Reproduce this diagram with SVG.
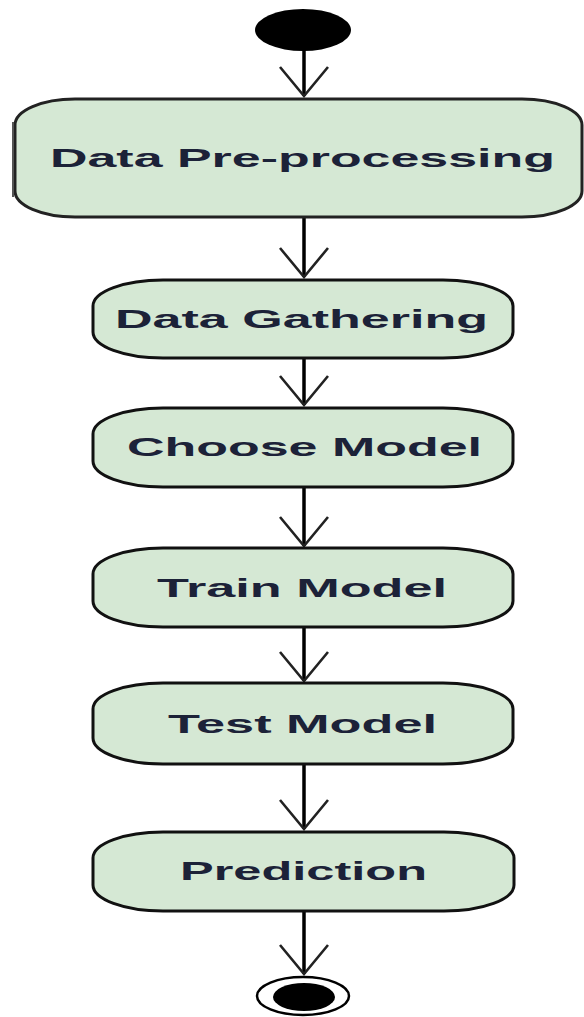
<svg xmlns="http://www.w3.org/2000/svg" width="584" height="1017" viewBox="0 0 584 1017">
<style>
.box{fill:#d5e8d4;stroke:#111;stroke-width:3}
.lbl{font-family:"Liberation Sans",Arial,sans-serif;font-size:26px;font-weight:bold;fill:#1c2238}
.conn{stroke:#000;stroke-width:3.5;fill:none}
</style>
<defs>
<marker id="v" markerUnits="userSpaceOnUse" viewBox="-33 -27 36 54" refX="0" refY="0" markerWidth="36" markerHeight="54" orient="auto">
<path d="M-29,-24 L0,0 L-29,24" fill="none" stroke="#222" stroke-width="2.6"/>
</marker>
</defs>
<g id="connectors">
<line class="conn" x1="304" y1="50" x2="304" y2="96" marker-end="url(#v)"/>
<line class="conn" x1="304" y1="218" x2="304" y2="277" marker-end="url(#v)"/>
<line class="conn" x1="304" y1="358" x2="304" y2="405" marker-end="url(#v)"/>
<line class="conn" x1="304" y1="487" x2="304" y2="546" marker-end="url(#v)"/>
<line class="conn" x1="304" y1="627" x2="304" y2="681" marker-end="url(#v)"/>
<line class="conn" x1="304" y1="764" x2="304" y2="829" marker-end="url(#v)"/>
<line class="conn" x1="304" y1="911" x2="304" y2="974" marker-end="url(#v)"/>
</g>
<g id="start">
<ellipse cx="303" cy="30" rx="48" ry="21" fill="#000"/>
</g>
<g id="n1">
<rect class="box" x="15" y="99" width="567" height="118" rx="60" ry="26" style="stroke:#222"/>
<line x1="13" y1="122" x2="13" y2="197" stroke="#555" stroke-width="2"/>
<text class="lbl" x="50" y="167" textLength="505" lengthAdjust="spacingAndGlyphs">Data Pre-processing</text>
</g>
<g id="n2">
<rect class="box" x="93" y="280" width="420" height="78" rx="70" ry="26"/>
<text class="lbl" x="115" y="328" textLength="373" lengthAdjust="spacingAndGlyphs">Data Gathering</text>
</g>
<g id="n3">
<rect class="box" x="93" y="408" width="420" height="79" rx="70" ry="26"/>
<text class="lbl" x="127" y="456" textLength="355" lengthAdjust="spacingAndGlyphs">Choose Model</text>
</g>
<g id="n4">
<rect class="box" x="93" y="548" width="420" height="79" rx="70" ry="26"/>
<text class="lbl" x="157" y="597" textLength="290" lengthAdjust="spacingAndGlyphs">Train Model</text>
</g>
<g id="n5">
<rect class="box" x="93" y="683" width="420" height="81" rx="70" ry="26"/>
<text class="lbl" x="168" y="733" textLength="269" lengthAdjust="spacingAndGlyphs">Test Model</text>
</g>
<g id="n6">
<rect class="box" x="93" y="832" width="421" height="79" rx="70" ry="26"/>
<text class="lbl" x="180" y="880" textLength="247" lengthAdjust="spacingAndGlyphs">Prediction</text>
</g>
<g id="end">
<ellipse cx="303" cy="996" rx="46" ry="19" fill="#fff" stroke="#000" stroke-width="2.5"/>
<ellipse cx="304" cy="997" rx="31" ry="14" fill="#000"/>
</g>
</svg>
